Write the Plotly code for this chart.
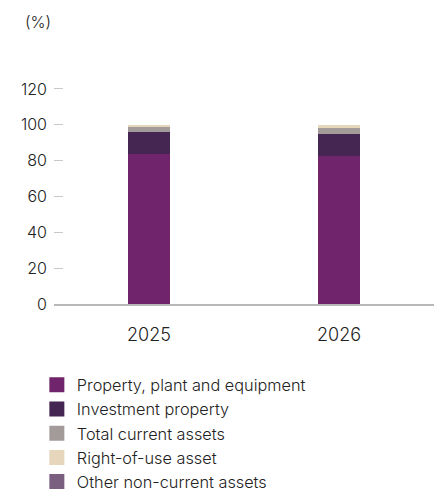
import plotly.graph_objects as go

years = ["2025", "2026"]
series_names = [
    "Property, plant and equipment",
    "Investment property",
    "Total current assets",
    "Right-of-use asset",
    "Other non-current assets",
]
ppe = [83.8, 82.7]
investment_property = [12.3, 12.3]
current_assets = [3.0, 3.3]
right_of_use = [0.9, 1.7]
other_non_current = [0.0, 0.0]

colors = ["#70246c", "#452552", "#a39b9a", "#e6d6bb", "#7b5f80"]
values = [ppe, investment_property, current_assets, right_of_use, other_non_current]

FONT = "Inter, Liberation Sans, Arial, sans-serif"
TEXT = "#222222"
WEIGHT = 300

fig = go.Figure()
for name, vals, col in zip(series_names, values, colors):
    fig.add_trace(go.Bar(
        x=years, y=vals, name=name, marker=dict(color=col, line=dict(width=0)),
        width=0.226, showlegend=False, hovertemplate="%{x}: %{y}%<extra>" + name + "</extra>",
    ))
# legend entries with larger square swatches
for name, col in zip(series_names, colors):
    fig.add_trace(go.Scatter(
        x=[None], y=[None], mode="markers", name=name,
        marker=dict(symbol="square", size=15, color=col), showlegend=True,
    ))

fig.update_layout(
    width=444, height=491,
    barmode="stack",
    plot_bgcolor="white", paper_bgcolor="white",
    margin=dict(l=54, r=10, t=80, b=187, autoexpand=False),
    font=dict(family=FONT, color=TEXT, size=16, weight=WEIGHT),
    legend=dict(
        traceorder="normal", orientation="v",
        xref="container", yref="container",
        x=0.083, y=0.251, xanchor="left", yanchor="top",
        font=dict(size=16.3, color=TEXT, weight=WEIGHT), bgcolor="rgba(0,0,0,0)",
    ),
    annotations=[dict(
        text="(%)", xref="paper", yref="paper", x=-0.042, y=1.26,
        xanchor="center", yanchor="middle", showarrow=False,
        font=dict(size=16, color=TEXT, weight=WEIGHT),
    )],
)
fig.update_yaxes(
    range=[0, 125], tickvals=[0, 20, 40, 60, 80, 100, 120],
    showgrid=False, zeroline=False, showline=False,
    ticks="inside", ticklen=9, tickcolor="#c8c8c8", tickwidth=1,
    ticklabelstandoff=6, tickfont=dict(size=16, color=TEXT, weight=WEIGHT),
)
fig.update_xaxes(
    type="category", range=[-0.5, 1.5],
    showline=True, linecolor="#b8b8b8", linewidth=1.5,
    showgrid=False, ticks="", ticklabelstandoff=14,
    tickfont=dict(size=18, color=TEXT, weight=WEIGHT),
)

fig.write_html("out.html")
